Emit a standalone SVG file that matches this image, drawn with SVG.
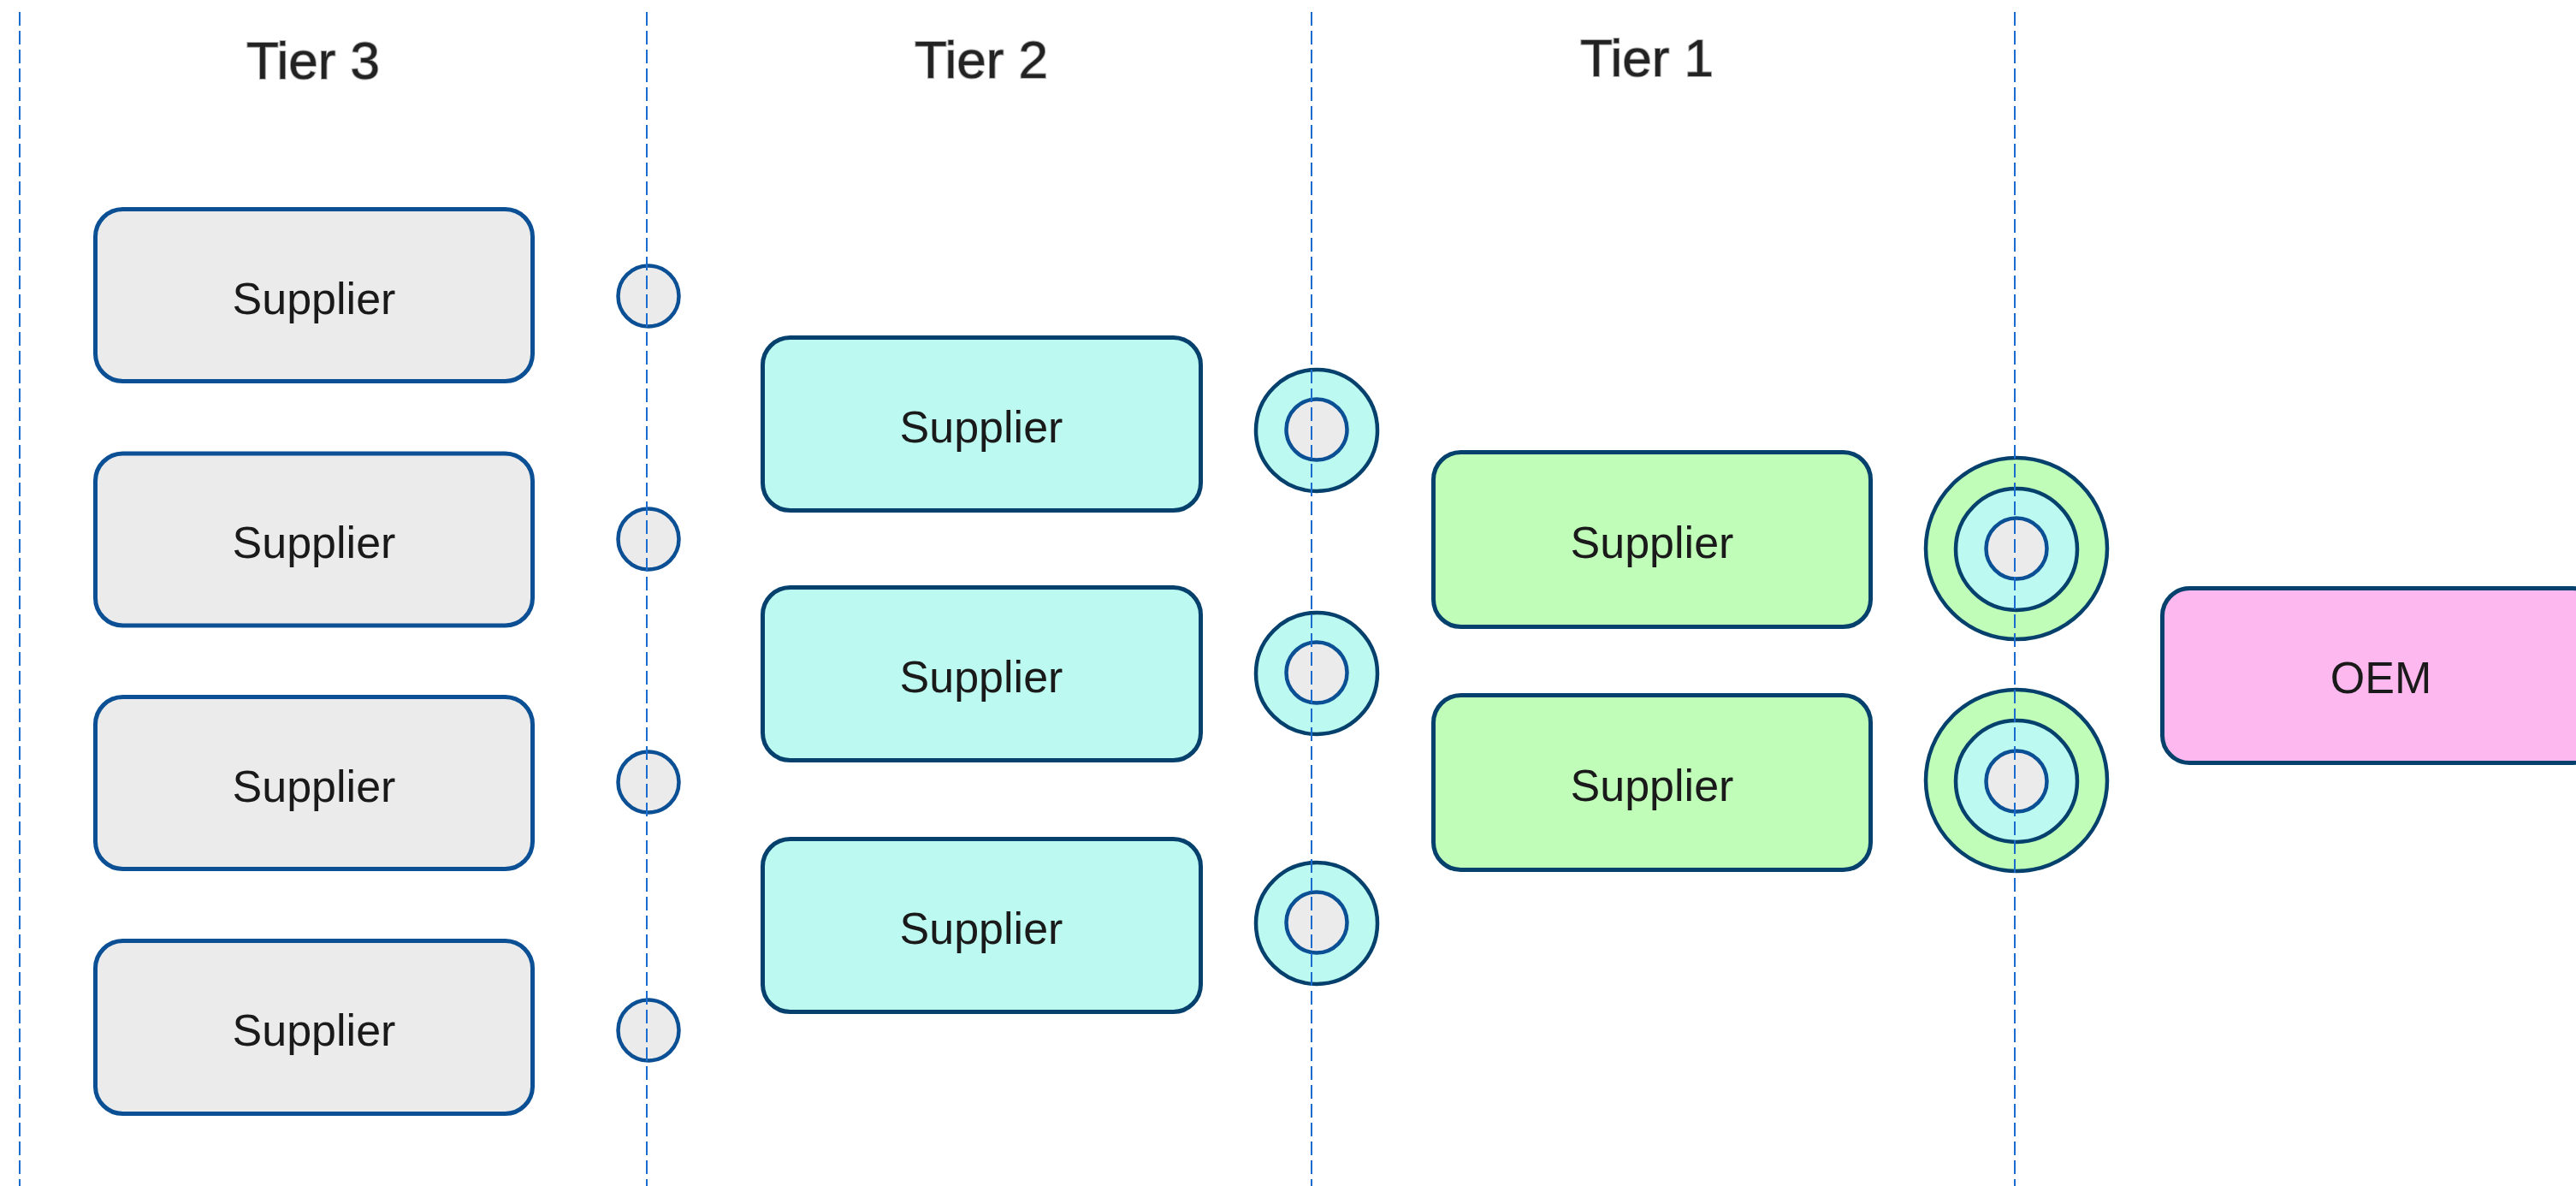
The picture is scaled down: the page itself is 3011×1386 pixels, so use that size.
<svg xmlns="http://www.w3.org/2000/svg" width="3011" height="1386" viewBox="0 0 3011 1386">
  <style>
    .tier { font-family: "Liberation Sans", Arial, sans-serif; font-size: 62px; fill: #222222; stroke: #a8a8a8; stroke-width: 2; paint-order: stroke; text-anchor: middle; }
    .label { font-family: "Liberation Sans", Arial, sans-serif; font-size: 52px; fill: #1a1a1a; text-anchor: middle; }
    .box { stroke-width: 5; }
    .t3 { fill: #ebebeb; stroke: #0b4f94; }
    .t2 { fill: #bcf9f0; stroke: #05416c; }
    .t1 { fill: #c0fdb8; stroke: #05416c; }
    .oem { fill: #fdb8ef; stroke: #05416c; }
    .ring { stroke-width: 4.5; }
    .core { fill: #ebebeb; stroke: #0b4f94; }
    .ring2 { fill: #bcf9f0; stroke: #05416c; }
    .ring1 { fill: #c0fdb8; stroke: #05416c; }
    .lane { stroke: #1a6ccf; stroke-width: 2; stroke-dasharray: 16 6; fill: none; }
  </style>
  <rect width="3011" height="1386" fill="#ffffff"/>

  <!-- column headings -->
  <g id="headings">
    <text class="tier" x="366" y="92">Tier 3</text>
    <text class="tier" x="1147" y="91">Tier 2</text>
    <text class="tier" x="1925" y="89">Tier 1</text>
  </g>

  <!-- Tier 3 suppliers -->
  <g id="tier3-supplier-1">
    <rect class="box t3" x="111.5" y="244.5" width="511" height="201" rx="32"/>
    <text class="label" x="367" y="367">Supplier</text>
  </g>
  <g id="tier3-supplier-2">
    <rect class="box t3" x="111.5" y="530" width="511" height="201" rx="32"/>
    <text class="label" x="367" y="652">Supplier</text>
  </g>
  <g id="tier3-supplier-3">
    <rect class="box t3" x="111.5" y="814.5" width="511" height="201" rx="32"/>
    <text class="label" x="367" y="937">Supplier</text>
  </g>
  <g id="tier3-supplier-4">
    <rect class="box t3" x="111.5" y="1099.5" width="511" height="202" rx="32"/>
    <text class="label" x="367" y="1222">Supplier</text>
  </g>

  <!-- Tier 3 parts -->
  <g id="tier3-part-1"><circle class="ring core" cx="758" cy="346" r="35.5"/></g>
  <g id="tier3-part-2"><circle class="ring core" cx="758" cy="630" r="35.5"/></g>
  <g id="tier3-part-3"><circle class="ring core" cx="758" cy="914" r="35.5"/></g>
  <g id="tier3-part-4"><circle class="ring core" cx="758" cy="1204" r="35.5"/></g>

  <!-- Tier 2 suppliers -->
  <g id="tier2-supplier-1">
    <rect class="box t2" x="891.5" y="394.5" width="512" height="202" rx="32"/>
    <text class="label" x="1147" y="517">Supplier</text>
  </g>
  <g id="tier2-supplier-2">
    <rect class="box t2" x="891.5" y="686.5" width="512" height="202" rx="32"/>
    <text class="label" x="1147" y="809">Supplier</text>
  </g>
  <g id="tier2-supplier-3">
    <rect class="box t2" x="891.5" y="980.5" width="512" height="202" rx="32"/>
    <text class="label" x="1147" y="1103">Supplier</text>
  </g>

  <!-- Tier 2 assemblies -->
  <g id="tier2-part-1">
    <circle class="ring ring2" cx="1539" cy="503" r="71"/>
    <circle class="ring core" cx="1539" cy="502" r="35.5"/>
  </g>
  <g id="tier2-part-2">
    <circle class="ring ring2" cx="1539" cy="787" r="71"/>
    <circle class="ring core" cx="1539" cy="786" r="35.5"/>
  </g>
  <g id="tier2-part-3">
    <circle class="ring ring2" cx="1539" cy="1079" r="71"/>
    <circle class="ring core" cx="1539" cy="1078" r="35.5"/>
  </g>

  <!-- Tier 1 suppliers -->
  <g id="tier1-supplier-1">
    <rect class="box t1" x="1675.5" y="528.5" width="511" height="204" rx="32"/>
    <text class="label" x="1931" y="652">Supplier</text>
  </g>
  <g id="tier1-supplier-2">
    <rect class="box t1" x="1675.5" y="812.5" width="511" height="204" rx="32"/>
    <text class="label" x="1931" y="936">Supplier</text>
  </g>

  <!-- Tier 1 systems -->
  <g id="tier1-part-1">
    <circle class="ring ring1" cx="2357" cy="641" r="106"/>
    <circle class="ring ring2" cx="2357" cy="642" r="71"/>
    <circle class="ring core" cx="2357" cy="641" r="35.5"/>
  </g>
  <g id="tier1-part-2">
    <circle class="ring ring1" cx="2357" cy="912" r="106"/>
    <circle class="ring ring2" cx="2357" cy="913" r="71"/>
    <circle class="ring core" cx="2357" cy="913" r="35.5"/>
  </g>

  <!-- OEM -->
  <g id="oem">
    <rect class="box oem" x="2527.5" y="687.5" width="512" height="204" rx="32"/>
    <text class="label" x="2783" y="810">OEM</text>
  </g>

  <!-- tier boundaries -->
  <g id="connectors">
    <line class="lane" x1="23" y1="14" x2="23" y2="1386"/>
    <line class="lane" x1="756" y1="14" x2="756" y2="1386"/>
    <line class="lane" x1="1533" y1="14" x2="1533" y2="1386"/>
    <line class="lane" x1="2355" y1="14" x2="2355" y2="1386"/>
  </g>
</svg>
